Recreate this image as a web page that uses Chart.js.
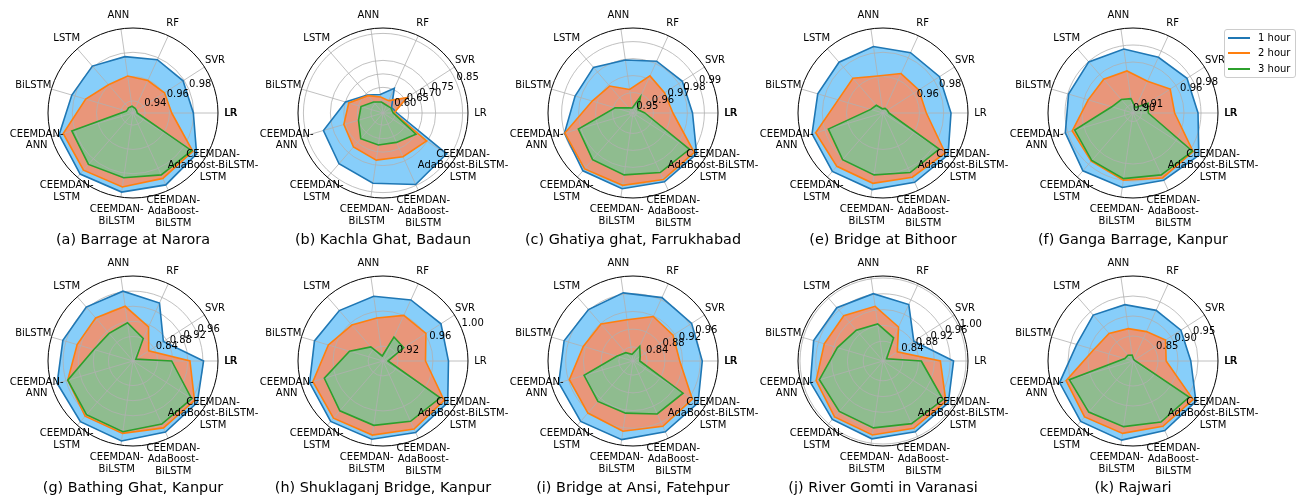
<!DOCTYPE html>
<html>
<head>
<meta charset="utf-8">
<script src="https://cdn.jsdelivr.net/npm/chart.js@4.4.1/dist/chart.umd.min.js"></script>
<style>
  html, body { margin: 0; padding: 0; background: #fff; }
  #wrap { position: relative; width: 1308px; height: 498px; overflow: hidden; background: #fff; }
  #wrap canvas { position: absolute; }
  #legend { position: absolute; left: 1224px; top: 29px; width: 70px; height: 47px;
            border: 1px solid #cccccc; border-radius: 3px; background: rgba(255,255,255,0.8);
            font: 10px 'DejaVu Sans', sans-serif; color: #000; z-index: 5; }
  #legend .row { position: absolute; left: 0; width: 70px; height: 12px; }
  #legend .swatch { position: absolute; left: 3px; top: 5px; width: 22px; height: 2px; }
  #legend .lbl { position: absolute; left: 33px; top: 0; line-height: 12px; white-space: nowrap; }
</style>
</head>
<body>
<div id="wrap"></div>
<script>
// Models on the angular axis (counter-clockwise from the right, as in the figure)
const MODELS = ['LR', 'SVR', 'RF', 'ANN', 'LSTM', 'BiLSTM',
  'CEEMDAN-\nANN', 'CEEMDAN-\nLSTM', 'CEEMDAN-\nBiLSTM',
  'CEEMDAN-\nAdaBoost-\nBiLSTM', 'CEEMDAN-\nAdaBoost-BiLSTM-\nLSTM'];

const STATIONS = ['(a) Barrage at Narora', '(b) Kachla Ghat, Badaun', '(c) Ghatiya ghat, Farrukhabad',
  '(e) Bridge at Bithoor', '(f) Ganga Barrage, Kanpur', '(g) Bathing Ghat, Kanpur',
  '(h) Shuklaganj Bridge, Kanpur', '(i) Bridge at Ansi, Fatehpur', '(j) River Gomti in Varanasi', '(k) Rajwari'];

const HORIZONS = ['1 hour', '2 hour', '3 hour'];

// Scores per station, in MODELS order
const HOUR1 = [
  [0.9797, 0.9790, 0.9783, 0.9769, 0.9811, 0.9825, 0.9934, 0.9965, 0.9958, 0.9951, 0.9923],
  [0.6070, 0.5928, 0.6558, 0.6243, 0.6432, 0.6999, 0.7850, 0.8039, 0.8180, 0.8464, 0.8354],
  [0.9830, 0.9825, 0.9815, 0.9795, 0.9835, 0.9835, 0.9900, 0.9930, 0.9930, 0.9925, 0.9925],
  [0.9860, 0.9853, 0.9846, 0.9853, 0.9853, 0.9860, 0.9909, 0.9937, 0.9937, 0.9927, 0.9937],
  [0.9765, 0.9755, 0.9720, 0.9760, 0.9795, 0.9790, 0.9830, 0.9900, 0.9885, 0.9870, 0.9920],
  [0.9618, 0.8706, 0.9438, 0.9618, 0.9640, 0.9685, 0.9843, 0.9876, 0.9888, 0.9820, 0.9775],
  [0.9777, 0.9816, 0.9796, 0.9777, 0.9791, 0.9845, 0.9903, 0.9942, 0.9932, 0.9927, 0.9908],
  [0.9645, 0.9654, 0.9654, 0.9635, 0.9616, 0.9702, 0.9827, 0.9885, 0.9875, 0.9837, 0.9827],
  [0.9685, 0.8825, 0.9470, 0.9620, 0.9685, 0.9728, 0.9814, 0.9857, 0.9889, 0.9867, 0.9863],
  [0.9320, 0.9299, 0.9267, 0.9299, 0.9394, 0.9341, 0.9788, 0.9873, 0.9873, 0.9788, 0.9745]
];
const HOUR2 = [
  [0.9619, 0.9608, 0.9594, 0.9608, 0.9608, 0.9706, 0.9899, 0.9923, 0.9916, 0.9892, 0.9885],
  [0.5960, 0.6605, 0.6054, 0.6149, 0.6400, 0.6873, 0.7062, 0.7220, 0.7314, 0.7330, 0.7472],
  [0.9715, 0.9700, 0.9720, 0.9620, 0.9690, 0.9730, 0.9898, 0.9915, 0.9910, 0.9910, 0.9908],
  [0.9657, 0.9650, 0.9657, 0.9608, 0.9678, 0.9685, 0.9878, 0.9881, 0.9885, 0.9881, 0.9909],
  [0.9490, 0.9520, 0.9410, 0.9500, 0.9525, 0.9550, 0.9745, 0.9750, 0.9800, 0.9840, 0.9840],
  [0.9258, 0.8245, 0.8740, 0.9213, 0.9258, 0.9291, 0.9550, 0.9685, 0.9685, 0.9696, 0.9685],
  [0.9515, 0.9612, 0.9602, 0.9525, 0.9573, 0.9680, 0.9864, 0.9893, 0.9884, 0.9884, 0.9859],
  [0.9136, 0.9155, 0.9184, 0.9021, 0.9184, 0.9251, 0.9578, 0.9635, 0.9683, 0.9702, 0.9674],
  [0.9351, 0.8330, 0.8846, 0.9298, 0.9416, 0.9448, 0.9663, 0.9771, 0.9792, 0.9771, 0.9792],
  [0.8704, 0.8842, 0.8683, 0.8693, 0.8789, 0.8895, 0.9618, 0.9724, 0.9703, 0.9671, 0.9660]
];
const HOUR3 = [
  [0.9335, 0.9335, 0.9342, 0.9356, 0.9356, 0.9356, 0.9825, 0.9860, 0.9839, 0.9860, 0.9874],
  [0.5928, 0.5897, 0.5865, 0.5960, 0.6086, 0.6400, 0.6495, 0.6810, 0.6747, 0.6747, 0.7000],
  [0.9550, 0.9515, 0.9585, 0.9510, 0.9520, 0.9590, 0.9815, 0.9843, 0.9848, 0.9865, 0.9875],
  [0.9349, 0.9342, 0.9342, 0.9335, 0.9384, 0.9405, 0.9769, 0.9808, 0.9815, 0.9839, 0.9850],
  [0.9180, 0.9210, 0.9070, 0.9170, 0.9210, 0.9260, 0.9715, 0.9740, 0.9780, 0.9800, 0.9830],
  [0.8774, 0.7840, 0.8403, 0.8774, 0.8718, 0.8830, 0.9550, 0.9629, 0.9640, 0.9584, 0.9595],
  [0.9088, 0.9311, 0.9331, 0.9088, 0.9243, 0.9428, 0.9728, 0.9782, 0.9772, 0.9787, 0.9806],
  [0.8234, 0.8272, 0.8445, 0.8234, 0.8330, 0.8464, 0.9232, 0.9290, 0.9270, 0.9395, 0.9424],
  [0.8868, 0.8008, 0.8545, 0.8846, 0.8932, 0.9104, 0.9577, 0.9588, 0.9609, 0.9642, 0.9706],
  [0.7939, 0.7918, 0.7918, 0.8024, 0.8066, 0.8088, 0.9533, 0.9564, 0.9533, 0.9554, 0.9543]
];

// Radial axis range and labelled rings per station
const R_MIN = [0.93, 0.555, 0.948, 0.93, 0.90, 0.775, 0.903, 0.808, 0.79, 0.7875];
const R_MAX = [1.00, 0.870, 0.998, 1.00, 1.00, 1.000, 1.000, 1.000, 1.005, 1.0000];
const R_TICKS = [
  [0.94, 0.96, 0.98],
  [0.60, 0.65, 0.70, 0.75, 0.85],
  [0.95, 0.96, 0.97, 0.98, 0.99],
  [0.96, 0.98],
  [0.90, 0.91, 0.96, 0.98],
  [0.84, 0.88, 0.92, 0.96],
  [0.92, 0.96, 1.00],
  [0.84, 0.88, 0.92, 0.96],
  [0.84, 0.88, 0.92, 0.96, 1.00],
  [0.85, 0.90, 0.95]
];

// ---- styling / layout ----
const LINE_COLORS = ['#1f77b4', '#ff7f0e', '#2ca02c'];
const FILL_COLORS = ['#87cefa', '#e9967a', '#8fbc8f'];
const FONT = "'DejaVu Sans', sans-serif";
const RADIUS = 85;
const CANVAS_W = 270, CANVAS_H = 248;
// label block centres relative to the plot centre, in MODELS order
const LABEL_OFFSET = [[97.5, 0], [82, -53], [39.7, -89.7], [-14.7, -98], [-66.3, -74.7], [-99.7, -28],
  [-96.3, 27], [-66.3, 78.7], [-16.3, 102.7], [40.3, 98.7], [80, 52.7]];
const LINE_GAP = 11.7;
const RLABEL_ANGLE = 22.5 * Math.PI / 180;
const HEAVY_LR = new Set([0, 2, 4, 5, 7, 9]);
// Chart.js walks clockwise from the start angle; reorder so the models run counter-clockwise
const CW_ORDER = [0, 10, 9, 8, 7, 6, 5, 4, 3, 2, 1];

const radarDecor = {
  id: 'radarDecor',
  beforeDatasetDraw(chart, args, opts) {
    // rings and spokes sit above the filled areas but below the outlines
    if (args.index !== 3) return;
    const s = chart.scales.r, ctx = chart.ctx;
    ctx.save();
    ctx.strokeStyle = '#b0b0b0';
    ctx.lineWidth = 0.8;
    opts.ticks.forEach(t => {
      const rr = s.getDistanceFromCenterForValue(t);
      if (rr <= 0.5 || rr >= s.drawingArea - 0.5) return;
      ctx.beginPath();
      ctx.arc(s.xCenter, s.yCenter, rr, 0, Math.PI * 2);
      ctx.stroke();
    });
    for (let i = 0; i < chart.data.labels.length; i++) {
      const p = s.getPointPosition(i, s.drawingArea);
      ctx.beginPath();
      ctx.moveTo(s.xCenter, s.yCenter);
      ctx.lineTo(p.x, p.y);
      ctx.stroke();
    }
    ctx.restore();
  },
  afterDraw(chart, args, opts) {
    const s = chart.scales.r, ctx = chart.ctx;
    const cx = s.xCenter, cy = s.yCenter;
    ctx.save();
    // outer spine
    ctx.strokeStyle = '#000';
    ctx.lineWidth = 1;
    ctx.beginPath();
    ctx.arc(cx, cy, s.drawingArea, 0, Math.PI * 2);
    ctx.stroke();

    ctx.fillStyle = '#000';
    // radial tick labels
    ctx.font = '10px ' + FONT;
    ctx.textAlign = 'left';
    ctx.textBaseline = 'bottom';
    opts.ticks.forEach(t => {
      const rr = s.getDistanceFromCenterForValue(t);
      ctx.fillText(t.toFixed(2), cx + rr * Math.cos(RLABEL_ANGLE), cy - rr * Math.sin(RLABEL_ANGLE));
    });

    // model labels
    ctx.textAlign = 'center';
    ctx.textBaseline = 'middle';
    MODELS.forEach((m, i) => {
      const lines = m.split('\n');
      const [dx, dy] = LABEL_OFFSET[i];
      lines.forEach((ln, j) => {
        const y = cy + dy + (j - (lines.length - 1) / 2) * LINE_GAP;
        ctx.fillText(ln, cx + dx, y);
        if (i === 0 && opts.heavyLR) ctx.fillText(ln, cx + dx + 0.6, y);
      });
    });

    // station caption
    ctx.font = '14.4px ' + FONT;
    ctx.fillText(opts.title, cx, 240);
    ctx.restore();
  }
};

const wrap = document.getElementById('wrap');
const SERIES = [HOUR1, HOUR2, HOUR3];

STATIONS.forEach((name, p) => {
  const col = p % 5, row = Math.floor(p / 5);
  const centerX = 133 + 250 * col, centerY = 113 + 248 * row;
  const canvas = document.createElement('canvas');
  canvas.width = CANVAS_W;
  canvas.height = CANVAS_H;
  canvas.style.left = (centerX - CANVAS_W / 2) + 'px';
  canvas.style.top = (centerY - 113) + 'px';
  wrap.appendChild(canvas);

  const datasets = [];
  SERIES.forEach((ser, k) => {
    datasets.push({
      label: HORIZONS[k],
      data: CW_ORDER.map(i => ser[p][i]),
      backgroundColor: FILL_COLORS[k],
      borderColor: 'rgba(0,0,0,0)',
      borderWidth: 0,
      fill: 'start',
      pointRadius: 0,
      order: 6 - k
    });
  });
  SERIES.forEach((ser, k) => {
    datasets.push({
      label: HORIZONS[k],
      data: CW_ORDER.map(i => ser[p][i]),
      borderColor: LINE_COLORS[k],
      borderWidth: 1.6,
      fill: false,
      pointRadius: 0,
      order: 3 - k
    });
  });

  new Chart(canvas, {
    type: 'radar',
    data: { labels: CW_ORDER.map(i => MODELS[i].replace(/\n/g, '')), datasets },
    options: {
      responsive: false,
      animation: false,
      devicePixelRatio: 1,
      layout: { padding: { left: CANVAS_W / 2 - RADIUS, right: CANVAS_W / 2 - RADIUS, top: 113 - RADIUS, bottom: CANVAS_H - 113 - RADIUS } },
      elements: { line: { tension: 0 } },
      scales: {
        r: {
          min: R_MIN[p],
          max: R_MAX[p],
          startAngle: 90,
          grid: { display: false, circular: true },
          angleLines: { display: false },
          ticks: { display: false },
          pointLabels: { display: false }
        }
      },
      plugins: {
        legend: { display: false },
        tooltip: { enabled: false },
        radarDecor: { ticks: R_TICKS[p], title: name, heavyLR: HEAVY_LR.has(p) }
      }
    },
    plugins: [radarDecor]
  });
});

// shared legend
const legend = document.createElement('div');
legend.id = 'legend';
const rowTops = [2.3, 17.3, 33];
HORIZONS.forEach((h, k) => {
  const r = document.createElement('div');
  r.className = 'row';
  r.style.top = rowTops[k] + 'px';
  const sw = document.createElement('div');
  sw.className = 'swatch';
  sw.style.background = LINE_COLORS[k];
  const tx = document.createElement('span');
  tx.className = 'lbl';
  tx.textContent = h;
  r.appendChild(sw);
  r.appendChild(tx);
  legend.appendChild(r);
});
wrap.appendChild(legend);
</script>
</body>
</html>
